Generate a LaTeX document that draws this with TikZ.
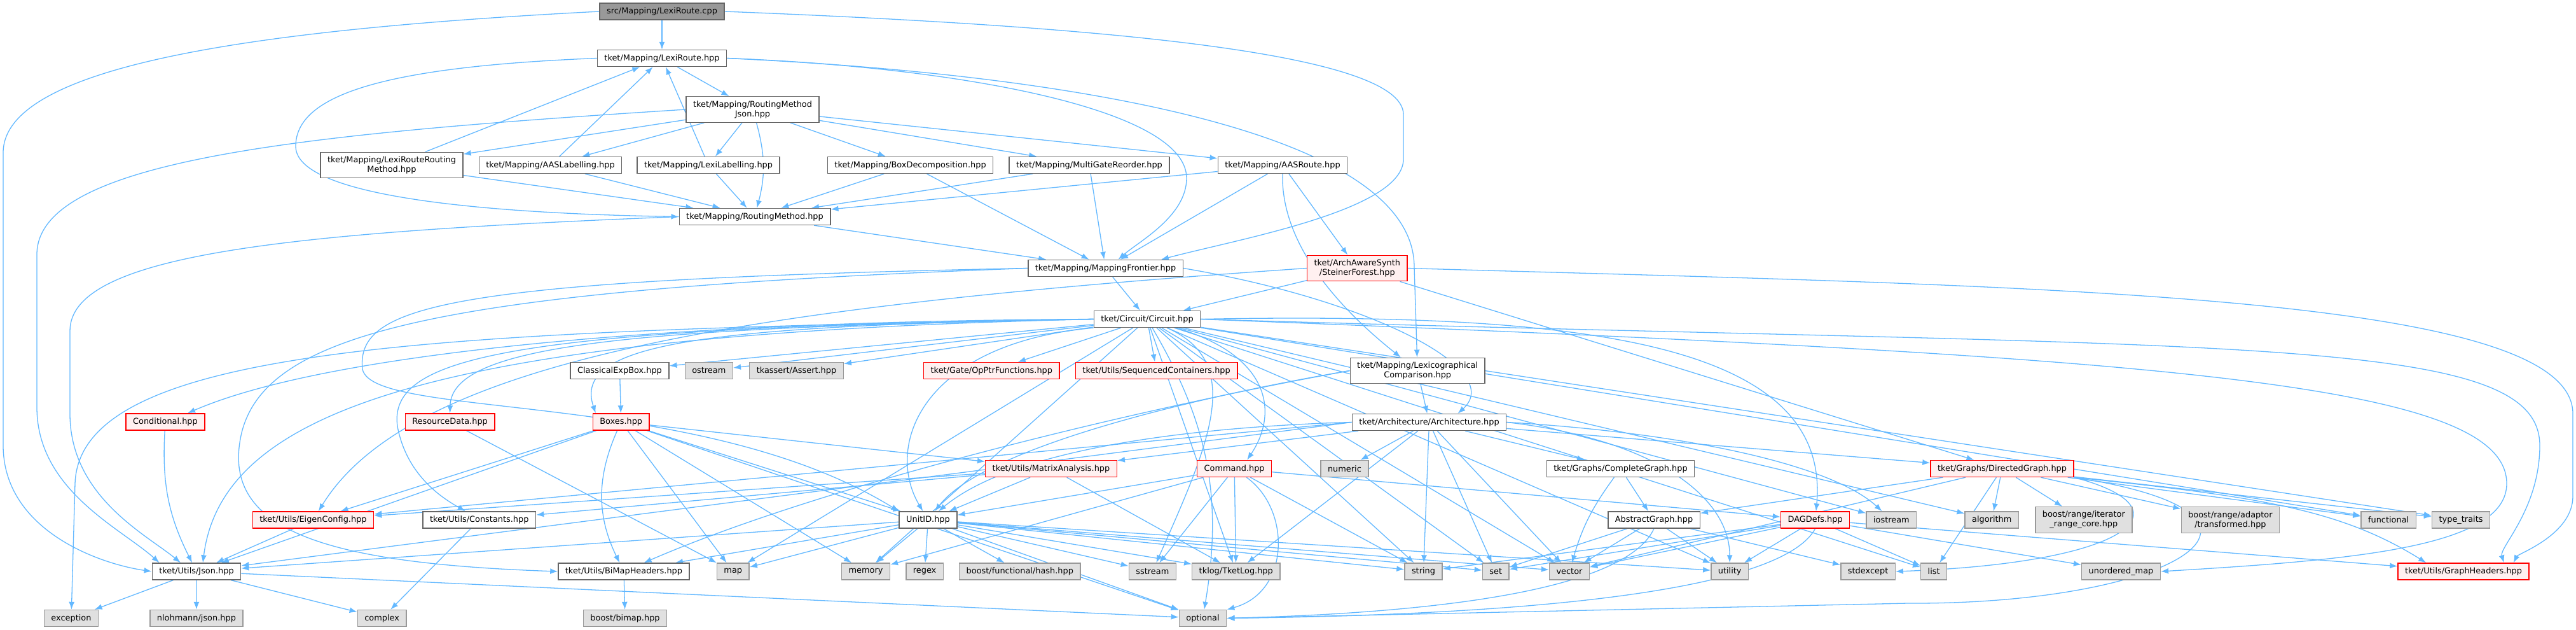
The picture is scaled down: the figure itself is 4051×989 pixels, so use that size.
\documentclass[tikz,border=0pt]{standalone}
\usepackage{fontspec}
\newfontfamily\graphfont{DejaVu Sans}
\usetikzlibrary{arrows.meta, positioning, backgrounds}
\definecolor{incBlue}{RGB}{99,184,255}
\definecolor{fileBorder}{RGB}{102,102,102}
\definecolor{sysFill}{RGB}{224,224,224}
\definecolor{sysBorder}{RGB}{153,153,153}
\definecolor{truncFill}{RGB}{255,240,240}
\definecolor{truncBorder}{RGB}{255,0,0}
\definecolor{srcFill}{RGB}{153,153,153}

\begin{document}
\begin{tikzpicture}[
    x=1pt, y=-1pt,
    filebox/.style={rectangle, draw=fileBorder, fill=white, line width=1.4pt, minimum height=26pt, inner xsep=11pt, inner ysep=6.5pt, align=center, font={\graphfont\fontsize{12.9pt}{15pt}\selectfont}},
    sysbox/.style={filebox, draw=sysBorder, fill=sysFill},
    redbox/.style={filebox, draw=truncBorder, fill=truncFill},
    srcbox/.style={filebox, fill=srcFill},
    incl/.style={draw=incBlue, line width=1.3pt, ->},
    >={Latex[length=12pt,width=9pt]}
]
\useasboundingbox (0,0) rectangle (4051,989);

% mapping headers
\node[srcbox] (src) at (1041,18) {src/Mapping/LexiRoute.cpp};
\node[filebox] (lr) at (1041,91.5) {tket/Mapping/LexiRoute.hpp};
\node[filebox] (rmj) at (1183.5,172) {tket/Mapping/RoutingMethod\\Json.hpp};
\node[filebox] (lrrm) at (616,259.5) {tket/Mapping/LexiRouteRouting\\Method.hpp};
\node[filebox, right=24pt of lrrm] (aasl) {tket/Mapping/AASLabelling.hpp};
\node[filebox, right=23pt of aasl] (lexl) {tket/Mapping/LexiLabelling.hpp};
\node[filebox, right=74pt of lexl] (boxd) {tket/Mapping/BoxDecomposition.hpp};
\node[filebox, right=24pt of boxd] (mgr) {tket/Mapping/MultiGateReorder.hpp};
\node[filebox, right=75pt of mgr] (aasr) {tket/Mapping/AASRoute.hpp};
\node[filebox] (rm) at (1187,340.5) {tket/Mapping/RoutingMethod.hpp};
\node[filebox] (mf) at (1738.5,421.5) {tket/Mapping/MappingFrontier.hpp};
\node[redbox, right=194pt of mf] (sf) {tket/ArchAwareSynth\\/SteinerForest.hpp};
\node[filebox] (circ) at (1804,501.5) {tket/Circuit/Circuit.hpp};

% circuit level
\node[filebox] (cebox) at (974.5,582.5) {ClassicalExpBox.hpp};
\node[sysbox, right=24pt of cebox] (ostr) {ostream};
\node[sysbox, right=25pt of ostr] (tkass) {tkassert/Assert.hpp};
\node[redbox, right=125pt of tkass] (opptr) {tket/Gate/OpPtrFunctions.hpp};
\node[redbox, right=24pt of opptr] (seqc) {tket/Utils/SequencedContainers.hpp};
\node[filebox, right=176pt of seqc] (lexc) {tket/Mapping/Lexicographical\\Comparison.hpp};
\node[redbox] (cond) at (260,663) {Conditional.hpp};
\node[redbox, right=314pt of cond] (resd) {ResourceData.hpp};
\node[redbox, right=153pt of resd] (boxes) {Boxes.hpp};
\node[filebox] (arch) at (2247.5,663.5) {tket/Architecture/Architecture.hpp};
\node[redbox] (matan) at (1653,736.5) {tket/Utils/MatrixAnalysis.hpp};
\node[redbox, right=125pt of matan] (cmd) {Command.hpp};
\node[sysbox, right=76pt of cmd] (numer) {numeric};
\node[filebox, right=279pt of numer] (cgraph) {tket/Graphs/CompleteGraph.hpp};
\node[redbox] (dgraph) at (3148.5,736.5) {tket/Graphs/DirectedGraph.hpp};

% utilities
\node[redbox] (eigen) at (492.5,817) {tket/Utils/EigenConfig.hpp};
\node[filebox, right=76pt of eigen] (consts) {tket/Utils/Constants.hpp};
\node[filebox] (unitid) at (1459.5,817) {UnitID.hpp};
\node[filebox] (agraph) at (2601,817) {AbstractGraph.hpp};
\node[redbox, right=126pt of agraph] (dagdefs) {DAGDefs.hpp};
\node[sysbox, right=25pt of dagdefs] (iostr) {iostream};
\node[sysbox, right=75pt of iostr] (algo) {algorithm};
\node[sysbox, right=25pt of algo] (irc) {boost/range/iterator\\\_range\_core.hpp};
\node[sysbox, right=76pt of irc] (trans) {boost/range/adaptor\\/transformed.hpp};
\node[sysbox, right=127pt of trans] (func) {functional};
\node[sysbox, right=24pt of func] (ttraits) {type\_traits};

\node[filebox] (json) at (309,898) {tket/Utils/Json.hpp};
\node[filebox] (bimaph) at (981,898) {tket/Utils/BiMapHeaders.hpp};
\node[sysbox, right=42pt of bimaph] (map) {map};
\node[sysbox, right=144pt of map] (memory) {memory};
\node[sysbox, right=24pt of memory] (regex) {regex};
\node[sysbox, right=24pt of regex] (hash) {boost/functional/hash.hpp};
\node[sysbox, right=75pt of hash] (sstream) {sstream};
\node[sysbox, right=24pt of sstream] (tklog) {tklog/TketLog.hpp};
\node[sysbox] (string) at (2238.5,898) {string};
\node[sysbox, right=62pt of string] (set) {set};
\node[sysbox, right=62pt of set] (vector) {vector};
\node[sysbox, right=190pt of vector] (utility) {utility};
\node[sysbox, right=144pt of utility] (stdexc) {stdexcept};
\node[sysbox, right=39pt of stdexc] (list) {list};
\node[sysbox] (umap) at (3335.5,898) {unordered\_map};
\node[redbox] (graphh) at (3874,898) {tket/Utils/GraphHeaders.hpp};

\node[sysbox] (exc) at (112,971.5) {exception};
\node[sysbox, right=80pt of exc] (nlohm) {nlohmann/json.hpp};
\node[sysbox, right=179pt of nlohm] (cplx) {complex};
\node[sysbox, right=277pt of cplx] (bimap) {boost/bimap.hpp};
\node[sysbox] (optional) at (1891.5,971.5) {optional};

% include edges, behind the boxes
\begin{scope}[on background layer]
\draw[incl] (src) -- (lr);
\draw[incl] (src.west) .. controls (420,45) and (5,100) .. (5,240) -- (5,700) .. controls (5,830) and (150,885) .. (json.west);
\draw[incl] (src.east) .. controls (1700,40) and (2207,80) .. (2207,180) -- (2207,250) .. controls (2207,330) and (1950,375) .. ([xshift=-35pt]mf.north east);

\draw[incl] (lr) -- (rmj);
\draw[incl] (lr.west) .. controls (600,105) and (465,150) .. (465,230) .. controls (465,320) and (850,337) .. (rm.west);
\draw[incl] (lr.east) .. controls (1500,105) and (1866,170) .. (1866,280) .. controls (1866,340) and (1790,380) .. ([xshift=20pt]mf.north);
\draw[incl] (lr.east) .. controls (1650,115) and (2224,200) .. (2224,420) -- (lexc);

\draw[incl] (rmj) -- (lrrm);
\draw[incl] (rmj) -- (aasl);
\draw[incl] (rmj) -- (lexl);
\draw[incl] (rmj) to[bend left=15] (rm);
\draw[incl] (rmj) -- (boxd);
\draw[incl] (rmj) -- (mgr);
\draw[incl] (rmj) -- (aasr);
\draw[incl] (rmj.west) .. controls (480,210) and (58,250) .. (58,400) -- (58,640) .. controls (58,770) and (190,830) .. ([xshift=12pt]json.north west);

\draw[incl] (lrrm) -- (lr);
\draw[incl] (lrrm) -- (rm);
\draw[incl] (aasl) -- (lr);
\draw[incl] (aasl) -- (rm);
\draw[incl] (lexl) -- (lr);
\draw[incl] (lexl) -- (rm);
\draw[incl] (boxd) -- (rm);
\draw[incl] (boxd) -- (mf);
\draw[incl] (mgr) -- (rm);
\draw[incl] (mgr) -- (mf);
\draw[incl] (aasr) -- (rm);
\draw[incl] (aasr) -- (mf);
\draw[incl] (aasr) -- (sf);
\draw[incl] (aasr.south) .. controls (2014,380) and (2100,480) .. (lexc);

\draw[incl] (rm) -- (mf);
\draw[incl] (rm.west) .. controls (450,365) and (110,400) .. (110,520) -- (110,650) .. controls (110,780) and (230,840) .. ([xshift=-25pt]json.north);

\draw[incl] (mf) -- (circ);
\draw[incl] (mf.west) .. controls (700,440) and (560,480) .. (570,580) .. controls (585,660) and (1100,610) .. (unitid.north west);
\draw[incl] (mf.west) .. controls (700,455) and (420,520) .. (380,680) .. controls (345,830) and (500,885) .. (bimaph.west);
\draw[incl] (mf.east) .. controls (2150,470) and (2370,580) .. ([xshift=45pt]arch.north);

\draw[incl] (sf) -- (circ);
\draw[incl] (sf) -- (dgraph);
\draw[incl] (sf.east) .. controls (3200,450) and (4046,460) .. (4046,650) -- (4046,780) .. controls (4046,840) and (3960,870) .. ([xshift=-25pt]graphh.north east);
\draw[incl] (sf.west) .. controls (1200,480) and (650,560) .. (eigen);

\draw[incl] (circ) -- (cebox);
\draw[incl] (circ) -- (ostr);
\draw[incl] (circ) -- (tkass);
\draw[incl] (circ) -- (opptr);
\draw[incl] (circ) -- (seqc);
\draw[incl] (circ.west) .. controls (1000,505) and (500,560) .. ([xshift=35pt]cond.north);
\draw[incl] (circ.west) .. controls (1000,515) and (710,540) .. (resd.north);
\draw[incl] (circ.west) .. controls (1100,512) and (900,540) .. ([xshift=-40pt]boxes.north);
\draw[incl] (circ.west) .. controls (800,515) and (610,560) .. (625,670) .. controls (640,750) and (700,785) .. ([xshift=-22pt]consts.north);
\draw[incl] (circ.west) .. controls (700,525) and (350,640) .. ([xshift=10pt]json.north);
\draw[incl] (circ.west) .. controls (700,520) and (125,540) .. (118,760) -- (exc);
\draw[incl] (circ.south west) .. controls (1450,540) and (1390,700) .. (unitid);
\draw[incl] (circ) .. controls (2000,560) and (2010,650) .. ([xshift=20pt]cmd.north);
\draw[incl] (circ) .. controls (1960,570) and (1900,700) .. (sstream);
\draw[incl] (circ) -- (map);
\draw[incl] (circ) -- (memory);
\draw[incl] (circ) -- (tklog);
\draw[incl] (circ) to[bend left=20] (optional);
\draw[incl] (circ) -- (string);
\draw[incl] (circ) -- (set);
\draw[incl] (circ) -- (vector);
\draw[incl] (circ) -- (utility);
\draw[incl] (circ) -- (list);
\draw[incl] (circ.east) .. controls (2500,490) and (2880,540) .. (dagdefs);
\draw[incl] (circ) -- (iostr);
\draw[incl] (circ) -- (algo);
\draw[incl] (circ) -- (func);
\draw[incl] (circ) -- (ttraits);
\draw[incl] (circ.east) .. controls (3500,550) and (3994,520) .. (3994,700) .. controls (3994,800) and (3930,860) .. ([xshift=-40pt]graphh.north east);
\draw[incl] (circ.east) .. controls (3400,560) and (3942,600) .. (3942,760) .. controls (3942,860) and (3700,880) .. (umap.east);

\draw[incl] (cebox) -- (boxes);
\draw[incl] (lexc) -- (arch);
\draw[incl] (lexc.west) .. controls (1900,620) and (1550,700) .. (unitid);
\draw[incl] (lexc.west) .. controls (1800,640) and (1300,760) .. (bimaph);
\draw[incl] (cond) to[bend right=15] (json);
\draw[incl] (resd) -- (map);

\draw[incl] (boxes) -- (eigen);
\draw[incl] (boxes) -- (json);
\draw[incl] (boxes) to[bend right=25] (bimaph);
\draw[incl] (boxes) -- (map);
\draw[incl] (boxes) -- (memory);
\draw[incl] (boxes) -- (unitid);
\draw[incl] (boxes) -- (matan);
\draw[incl] (boxes) -- (optional);

\draw[incl] (arch) -- (numer);
\draw[incl] (arch) -- (string);
\draw[incl] (arch) -- (set);
\draw[incl] (arch) -- (vector);
\draw[incl] (arch) -- (cgraph);
\draw[incl] (arch) -- (dgraph);
\draw[incl] (arch.east) .. controls (2650,680) and (2880,730) .. (iostr);
\draw[incl] (arch.east) .. controls (2600,690) and (2720,780) .. (utility);
\draw[incl] (arch) -- (matan);
\draw[incl] (arch.west) .. controls (1900,670) and (1600,700) .. (unitid);
\draw[incl] (arch.west) -- (eigen);
\draw[incl] (arch.west) -- (json);
\draw[incl] (arch) -- (tklog);

\draw[incl] (matan) -- (eigen);
\draw[incl] (matan) -- (unitid);
\draw[incl] (matan) -- (tklog);
\draw[incl] (matan) -- (consts);

\draw[incl] (cmd) -- (unitid);
\draw[incl] (cmd) -- (sstream);
\draw[incl] (cmd) -- (tklog);
\draw[incl] (cmd) .. controls (2030,800) and (2030,930) .. (optional.north east);
\draw[incl] (cmd) -- (memory);
\draw[incl] (cmd) -- (string);
\draw[incl] (cmd) -- (dagdefs);

\draw[incl] (cgraph) -- (agraph);
\draw[incl] (cgraph) to[bend right=10] (vector);
\draw[incl] (dgraph) -- (agraph);
\draw[incl] (dgraph) -- (algo);
\draw[incl] (dgraph) -- (irc);
\draw[incl] (dgraph) -- (trans);
\draw[incl] (dgraph) -- (func);
\draw[incl] (dgraph) -- (ttraits);
\draw[incl] (dgraph) -- (list);
\draw[incl] (dgraph) -- (vector);
\draw[incl] (dgraph.south east) .. controls (3550,780) and (3680,800) .. ([xshift=45pt]graphh.north west);
\draw[incl] (dgraph.south east) .. controls (3450,800) and (3350,885) .. (stdexc.east);
\draw[incl] (dgraph.south east) .. controls (3650,810) and (3420,950) .. (3000,948) -- (optional.east);

\draw[incl] (agraph) -- (set);
\draw[incl] (agraph) -- (vector);
\draw[incl] (agraph) -- (utility);
\draw[incl] (agraph) -- (stdexc);
\draw[incl] (agraph.south) .. controls (2560,920) and (2300,962) .. (optional.east);
\draw[incl] (dagdefs) -- (string);
\draw[incl] (dagdefs) -- (set);
\draw[incl] (dagdefs) -- (vector);
\draw[incl] (dagdefs) -- (utility);
\draw[incl] (dagdefs) -- (list);
\draw[incl] (dagdefs) -- (umap);
\draw[incl] (dagdefs) -- (graphh);
\draw[incl] (dagdefs.south) .. controls (2800,930) and (2400,966) .. (optional.east);

\draw[incl] (unitid) -- (bimaph);
\draw[incl] (unitid) -- (map);
\draw[incl] (unitid) -- (memory);
\draw[incl] (unitid) -- (regex);
\draw[incl] (unitid) -- (hash);
\draw[incl] (unitid) -- (sstream);
\draw[incl] (unitid) -- (tklog);
\draw[incl] (unitid) -- (optional);
\draw[incl] (unitid) -- (string);
\draw[incl] (unitid) -- (set);
\draw[incl] (unitid) -- (vector);
\draw[incl] (unitid) -- (utility);
\draw[incl] (unitid) -- (json);
\draw[incl] (eigen) -- (json);
\draw[incl] (consts) -- (cplx);
\draw[incl] (json) -- (exc);
\draw[incl] (json) -- (nlohm);
\draw[incl] (json) -- (cplx);
\draw[incl] (json) -- (optional);
\draw[incl] (bimaph) -- (bimap);
\end{scope}
\end{tikzpicture}
\end{document}
